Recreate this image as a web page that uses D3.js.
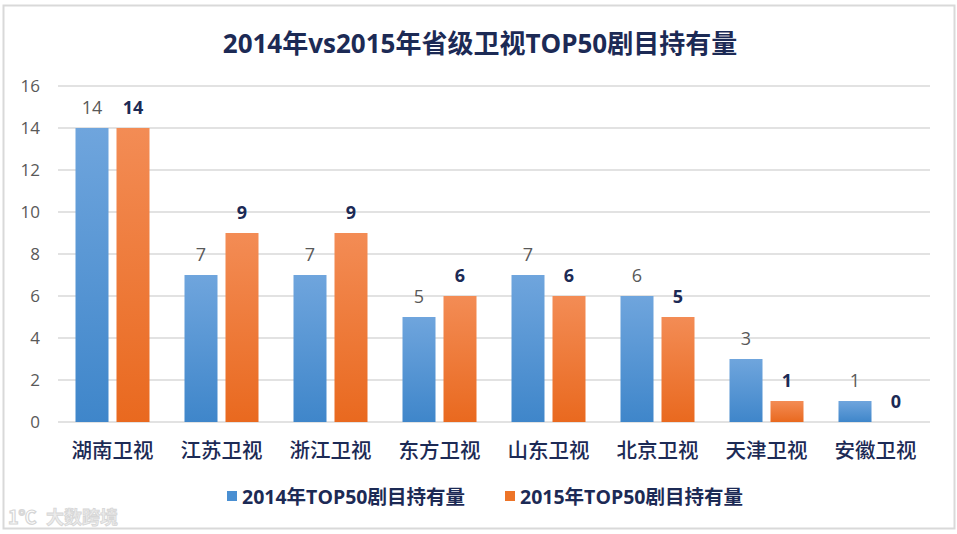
<!DOCTYPE html>
<html>
<head>
<meta charset="utf-8">
<script src="https://cdn.jsdelivr.net/npm/d3@7"></script>
<style>
  body { margin: 0; background: #fff; }
  svg { display: block; }
</style>
</head>
<body>
<svg id="chart" width="957" height="534"></svg>
<script>
const categories = ["湖南卫视", "江苏卫视", "浙江卫视", "东方卫视", "山东卫视", "北京卫视", "天津卫视", "安徽卫视"];
const values2014 = [14, 7, 7, 5, 7, 6, 3, 1];
const values2015 = [14, 9, 9, 6, 6, 5, 1, 0];
const seriesNames = ["2014年TOP50剧目持有量", "2015年TOP50剧目持有量"];
const yTicks = [0, 2, 4, 6, 8, 10, 12, 14, 16];

const width = 957, height = 534;
const margin = { top: 86, right: 27, bottom: 112, left: 58 };

const svg = d3.select("#chart");
const font = "'Open Sans', 'Noto Sans CJK SC', sans-serif";
const navy = "#1c2a55";

// frame
svg.append("rect")
  .attr("x", 3.5).attr("y", 5.5)
  .attr("width", 951).attr("height", 523)
  .attr("fill", "none")
  .attr("stroke", "#d9d9d9")
  .attr("stroke-width", 2);

// gradients
const defs = svg.append("defs");
function grad(id, top, bottom) {
  const g = defs.append("linearGradient").attr("id", id)
    .attr("x1", 0).attr("y1", 0).attr("x2", 0).attr("y2", 1);
  g.append("stop").attr("offset", "0%").attr("stop-color", top);
  g.append("stop").attr("offset", "100%").attr("stop-color", bottom);
}
grad("g2014", "#6fa5dd", "#3f86ca");
grad("g2015", "#f38c55", "#e9691f");

const x = d3.scaleBand()
  .domain(categories)
  .range([margin.left, width - margin.right]);

const y = d3.scaleLinear()
  .domain([0, 16])
  .range([height - margin.bottom, margin.top]);

// gridlines
svg.append("g")
  .selectAll("line")
  .data(yTicks)
  .join("line")
    .attr("x1", margin.left)
    .attr("x2", width - margin.right)
    .attr("y1", d => y(d))
    .attr("y2", d => y(d))
    .attr("stroke", "#d9d9d9")
    .attr("stroke-width", 1.5);

// y axis labels
const yAxis = svg.append("g")
  .attr("transform", `translate(${margin.left - 18},0)`)
  .call(d3.axisLeft(y).tickValues(yTicks).tickSize(0).tickPadding(0));
yAxis.select(".domain").remove();
yAxis.selectAll("text")
  .attr("font-family", font)
  .attr("font-size", 17)
  .attr("fill", "#595959");

// bars
const barW = 33, gap = 8;
const series = [
  { key: "2014", values: values2014, fill: "url(#g2014)", off: -(barW + gap / 2) + barW / 2 },
  { key: "2015", values: values2015, fill: "url(#g2015)", off: gap / 2 + barW / 2 }
];

series.forEach(s => {
  const cx = i => x(categories[i]) + x.bandwidth() / 2 + s.off;
  svg.append("g")
    .selectAll("rect")
    .data(s.values)
    .join("rect")
      .attr("x", (d, i) => cx(i) - barW / 2)
      .attr("y", d => y(d))
      .attr("width", barW)
      .attr("height", d => y(0) - y(d))
      .attr("fill", s.fill);

  svg.append("g")
    .selectAll("text")
    .data(s.values)
    .join("text")
      .attr("x", (d, i) => cx(i))
      .attr("y", d => y(d) - 14)
      .attr("text-anchor", "middle")
      .attr("font-family", font)
      .attr("font-size", 18)
      .attr("font-weight", s.key === "2015" ? 700 : 400)
      .attr("fill", s.key === "2015" ? navy : "#595959")
      .text(d => d);
});

// category labels
svg.append("g")
  .selectAll("text")
  .data(categories)
  .join("text")
    .attr("x", d => x(d) + x.bandwidth() / 2)
    .attr("y", y(0) + 36)
    .attr("text-anchor", "middle")
    .attr("font-family", "'Noto Sans CJK SC', sans-serif")
    .attr("font-size", 20.5)
    .attr("font-weight", 500)
    .attr("fill", navy)
    .text(d => d);

// title
svg.append("text")
  .attr("x", 480)
  .attr("y", 53)
  .attr("text-anchor", "middle")
  .attr("font-family", font)
  .attr("font-size", 26)
  .attr("font-weight", 700)
  .attr("fill", navy)
  .text("2014年vs2015年省级卫视TOP50剧目持有量");

// legend
const legendX = [227, 505];
const legendFill = ["#4a8fd2", "#ed7428"];
seriesNames.forEach((name, i) => {
  svg.append("rect")
    .attr("x", legendX[i]).attr("y", 491)
    .attr("width", 10).attr("height", 10)
    .attr("fill", legendFill[i]);
  svg.append("text")
    .attr("x", legendX[i] + 15).attr("y", 504)
    .attr("font-family", font)
    .attr("font-size", 19.5)
    .attr("font-weight", 700)
    .attr("fill", navy)
    .text(name);
});

// watermark
svg.append("text")
  .attr("x", 8).attr("y", 524)
  .attr("font-family", "'Noto Sans CJK SC', sans-serif")
  .attr("font-size", 18)
  .attr("font-weight", 700)
  .attr("fill", "none")
  .attr("stroke", "#d6d6d6")
  .attr("stroke-width", 1.2)
  .text("1℃");
svg.append("text")
  .attr("x", 46).attr("y", 524)
  .attr("font-family", "'Noto Sans CJK SC', sans-serif")
  .attr("font-size", 18)
  .attr("font-weight", 700)
  .attr("fill", "#ececec")
  .attr("stroke", "#d6d6d6")
  .attr("stroke-width", 0.8)
  .text("大数跨境");
</script>
</body>
</html>
